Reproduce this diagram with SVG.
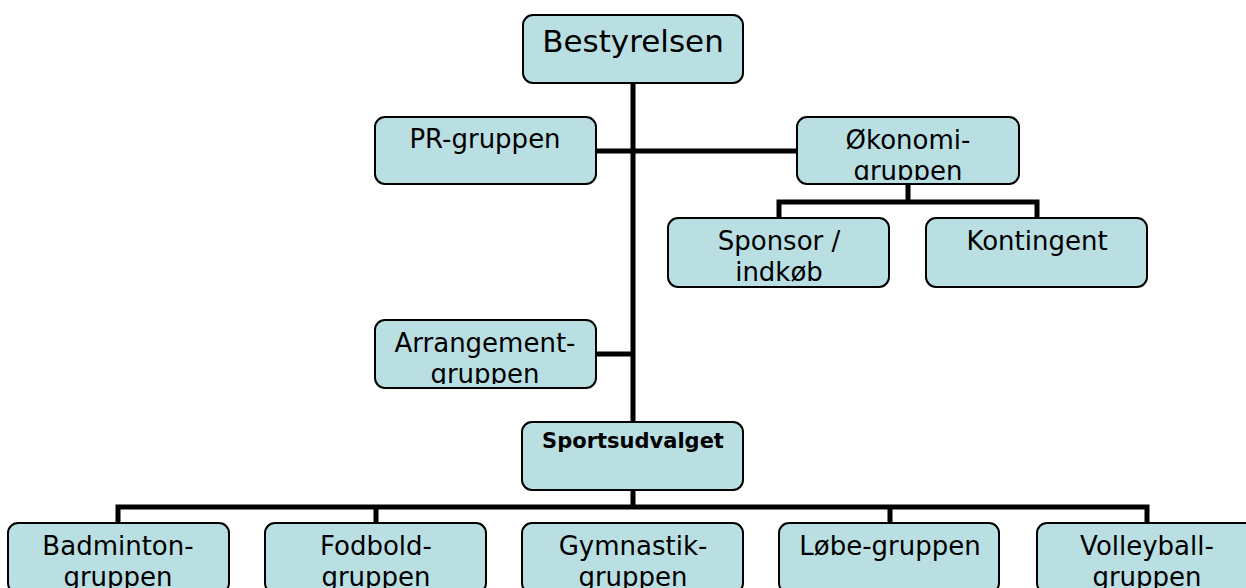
<svg xmlns="http://www.w3.org/2000/svg" width="1246" height="588" viewBox="0 0 1246 588">
<style>
.box{fill:#B9DFE2;stroke:#000;stroke-width:2}
.t{font-family:"DejaVu Sans",Verdana,sans-serif;font-size:26px;fill:#000;text-anchor:middle}
.big{font-size:31px}
.bold{font-size:21px;font-weight:bold}
.c{stroke:#000;stroke-width:5;fill:none}
</style>
<defs>
<clipPath id="cOk"><rect x="798" y="118" width="220" height="62"/></clipPath>
<clipPath id="cAr"><rect x="376" y="321" width="219" height="63"/></clipPath>
<clipPath id="cSp"><rect x="669" y="219" width="219" height="64"/></clipPath>
</defs>
<g id="connectors">
<path class="c" d="M633 83V422"/>
<path class="c" d="M596 151H797"/>
<path class="c" d="M596 354H633"/>
<path class="c" d="M908 184V202M779 218V202H1037V218"/>
<path class="c" d="M633 490V507M118 523V507H1147V523M376 507V523M890 507V523"/>
</g>
<g id="bestyrelsen"><rect class="box" x="523" y="15" width="220" height="68" rx="10"/><text class="t big" x="633" y="52">Bestyrelsen</text></g>
<g id="pr"><rect class="box" x="375" y="117" width="221" height="67" rx="10"/><text class="t" x="485" y="148">PR-gruppen</text></g>
<g id="okonomi"><rect class="box" x="797" y="117" width="222" height="67" rx="10"/><g clip-path="url(#cOk)"><text class="t" x="908" y="149">Økonomi-</text><text class="t" x="908" y="180">gruppen</text></g></g>
<g id="sponsor"><rect class="box" x="668" y="218" width="221" height="69" rx="10"/><g clip-path="url(#cSp)"><text class="t" x="779" y="250">Sponsor /</text><text class="t" x="779" y="281">indkøb</text></g></g>
<g id="kontingent"><rect class="box" x="926" y="218" width="221" height="69" rx="10"/><text class="t" x="1037" y="250">Kontingent</text></g>
<g id="arrangement"><rect class="box" x="375" y="320" width="221" height="68" rx="10"/><g clip-path="url(#cAr)"><text class="t" x="485" y="352">Arrangement-</text><text class="t" x="485" y="383">gruppen</text></g></g>
<g id="sportsudvalget"><rect class="box" x="522" y="422" width="221" height="68" rx="10"/><text class="t bold" x="633" y="448">Sportsudvalget</text></g>
<g id="badminton"><rect class="box" x="8" y="523" width="221" height="70" rx="10"/><text class="t" x="118" y="555">Badminton-</text><text class="t" x="118" y="586">gruppen</text></g>
<g id="fodbold"><rect class="box" x="265" y="523" width="221" height="70" rx="10"/><text class="t" x="376" y="555">Fodbold-</text><text class="t" x="376" y="586">gruppen</text></g>
<g id="gymnastik"><rect class="box" x="522" y="523" width="221" height="70" rx="10"/><text class="t" x="633" y="555">Gymnastik-</text><text class="t" x="633" y="586">gruppen</text></g>
<g id="lobe"><rect class="box" x="779" y="523" width="220" height="70" rx="10"/><text class="t" x="890" y="555">Løbe-gruppen</text></g>
<g id="volleyball"><rect class="box" x="1037" y="523" width="221" height="70" rx="10"/><text class="t" x="1147" y="555">Volleyball-</text><text class="t" x="1147" y="586">gruppen</text></g>
</svg>
